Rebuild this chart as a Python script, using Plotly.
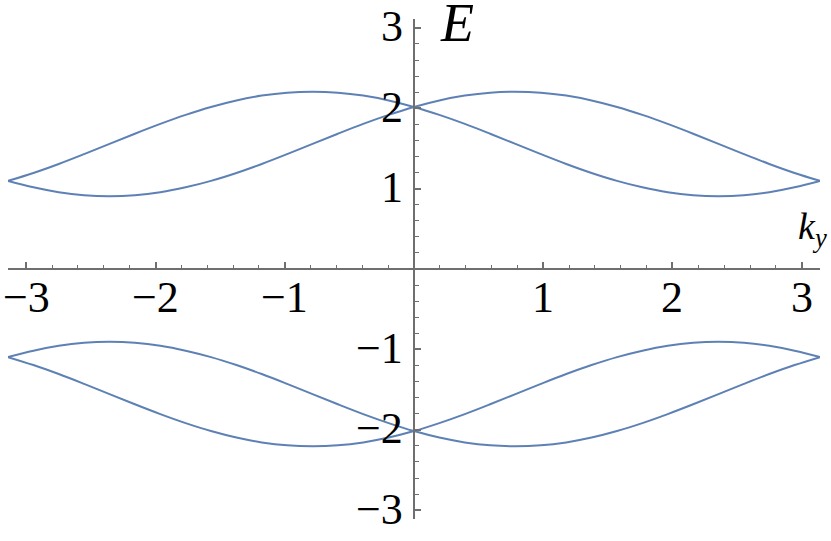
import math
import plotly.graph_objects as go

# sample points k_y (read at steps of about pi/16)
ky = [-3.1416, -2.945, -2.749, -2.553, -2.356, -2.160, -1.963, -1.767, -1.571,
      -1.374, -1.178, -0.982, -0.785, -0.589, -0.393, -0.196, 0.0,
      0.196, 0.393, 0.589, 0.785, 0.982, 1.178, 1.374, 1.571,
      1.767, 1.963, 2.160, 2.356, 2.553, 2.749, 2.945, 3.1416]

# upper band, branch peaking at negative k
E_up_a = [1.096, 1.195, 1.307, 1.429, 1.556, 1.683, 1.805, 1.917, 2.016, 2.097, 2.157, 2.194,
          2.206, 2.194, 2.157, 2.097, 2.016, 1.917, 1.805, 1.683, 1.556, 1.429, 1.307, 1.195,
          1.096, 1.016, 0.955, 0.918, 0.906, 0.918, 0.955, 1.016, 1.096]
# upper band, branch peaking at positive k
E_up_b = [1.096, 1.016, 0.955, 0.918, 0.906, 0.918, 0.955, 1.016, 1.096, 1.195, 1.307, 1.429,
          1.556, 1.683, 1.805, 1.917, 2.016, 2.097, 2.157, 2.194, 2.206, 2.194, 2.157, 2.097,
          2.016, 1.917, 1.805, 1.683, 1.556, 1.429, 1.307, 1.195, 1.096]
# lower band
E_lo_a = [-1.096, -1.195, -1.307, -1.429, -1.556, -1.683, -1.805, -1.917, -2.016, -2.097, -2.157, -2.194,
          -2.206, -2.194, -2.157, -2.097, -2.016, -1.917, -1.805, -1.683, -1.556, -1.429, -1.307, -1.195,
          -1.096, -1.016, -0.955, -0.918, -0.906, -0.918, -0.955, -1.016, -1.096]
E_lo_b = [-1.096, -1.016, -0.955, -0.918, -0.906, -0.918, -0.955, -1.016, -1.096, -1.195, -1.307, -1.429,
          -1.556, -1.683, -1.805, -1.917, -2.016, -2.097, -2.157, -2.194, -2.206, -2.194, -2.157, -2.097,
          -2.016, -1.917, -1.805, -1.683, -1.556, -1.429, -1.307, -1.195, -1.096]

x_ticks = [-3, -2, -1, 1, 2, 3]
y_ticks = [-3, -2, -1, 1, 2, 3]
tick_text = ["\u22123", "\u22122", "\u22121", "1", "2", "3"]

LINE = "#5E81B5"
AX = "#6f6f6f"
FONT = "Liberation Serif"

fig = go.Figure()
for ys in (E_up_a, E_up_b, E_lo_a, E_lo_b):
    fig.add_trace(go.Scatter(x=ky, y=ys, mode="lines", line=dict(color=LINE, width=2, shape="spline"),
                             showlegend=False, hoverinfo="skip"))

axis_common = dict(showgrid=False, zeroline=False, showline=True, linecolor=AX, linewidth=2,
                   ticks="inside", ticklen=6, tickwidth=1.5, tickcolor=AX, showticklabels=False,
                   anchor="free", position=0.5)

# tick labels as text placed at the tick values
annotations = []
for v, t in zip(x_ticks, tick_text):
    annotations.append(dict(text=t, x=v, y=0, xref="x", yref="y", xanchor="center", yanchor="middle",
                            yshift=-28.5, showarrow=False, font=dict(family=FONT, size=44)))
for v, t in zip(y_ticks, tick_text):
    annotations.append(dict(text=t, x=0, y=v, xref="x", yref="y", xanchor="right", yanchor="middle",
                            xshift=-9, yshift=1, showarrow=False, font=dict(family=FONT, size=44)))
annotations.append(dict(text="<i>E</i>", x=(457 - 8) / 812, y=(519 - 23) / 500, xref="paper", yref="paper",
                        xanchor="center", yanchor="middle", showarrow=False,
                        font=dict(family=FONT, size=54)))
annotations.append(dict(text="<i>k<sub>y</sub></i>", x=(829 - 8) / 812, y=(519 - 229) / 500, xref="paper",
                        yref="paper", xanchor="right", yanchor="middle", showarrow=False,
                        font=dict(family=FONT, size=38)))

fig.update_layout(
    width=831, height=541,
    margin=dict(l=8, r=11, t=19, b=22),
    paper_bgcolor="white", plot_bgcolor="white",
    font=dict(family=FONT, color="black"),
    xaxis=dict(range=[-math.pi, math.pi], tickmode="array", tickvals=x_ticks,
               minor=dict(dtick=0.2, tick0=0, ticks="inside", ticklen=3.5, tickwidth=1.2, tickcolor=AX),
               **axis_common),
    yaxis=dict(range=[-3.11, 3.11], tickmode="array", tickvals=y_ticks,
               minor=dict(dtick=0.2, tick0=0, ticks="inside", ticklen=3.5, tickwidth=1.2, tickcolor=AX),
               **axis_common),
    annotations=annotations,
)

fig.write_html("out.html", config={"displayModeBar": False},
               post_script="document.body.style.margin='0px';")
